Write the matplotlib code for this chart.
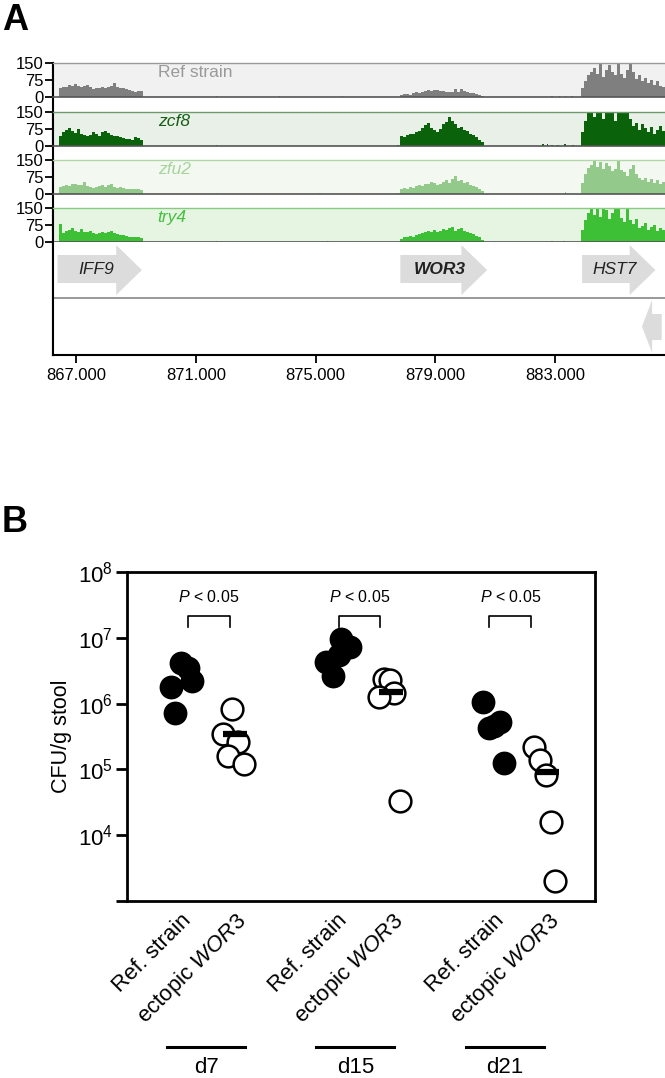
import numpy as np
import matplotlib
matplotlib.use('Agg')
import matplotlib.pyplot as plt
from matplotlib.patches import Polygon
import matplotlib.transforms as mtransforms

plt.rcParams['font.family'] = ['Liberation Sans', 'DejaVu Sans']
plt.rcParams['mathtext.fontset'] = 'custom'
plt.rcParams['mathtext.rm'] = 'Liberation Sans'
plt.rcParams['mathtext.it'] = 'Liberation Sans:italic'
plt.rcParams['mathtext.bf'] = 'Liberation Sans:bold'

# ---------------- Panel A data ----------------
track_names = ['Ref strain', 'zcf8', 'zfu2', 'try4']
region_starts = [866430, 877830, 883866]   # IFF9, WOR3, HST7 coverage regions
bin_bp = 100

ref_iff9 = [40, 46, 44, 52, 48, 56, 50, 44, 47, 52, 42, 34, 38, 41, 44, 40, 46, 48, 62, 44, 40, 38, 34, 30, 26, 24, 28, 26]
ref_wor3 = [8, 12, 14, 10, 16, 20, 18, 24, 28, 30, 26, 32, 30, 28, 26, 22, 20, 24, 36, 22, 34, 28, 20, 18, 16, 14, 10, 6]
ref_hst7 = [40, 72, 96, 110, 130, 100, 145, 90, 120, 140, 110, 95, 150, 100, 85, 120, 150, 110, 80, 95, 70, 85, 60, 75, 55, 70, 50, 45]

zcf8_iff9 = [45, 60, 72, 78, 65, 58, 74, 55, 50, 42, 48, 62, 55, 46, 60, 68, 58, 50, 45, 42, 38, 34, 30, 32, 25, 40, 36, 26]
zcf8_wor3 = [45, 40, 48, 52, 55, 60, 66, 80, 92, 100, 78, 70, 62, 75, 95, 108, 128, 112, 96, 80, 84, 70, 64, 55, 48, 40, 28, 16]
zcf8_hst7 = [60, 110, 150, 150, 130, 150, 150, 120, 150, 150, 150, 110, 150, 150, 150, 150, 120, 90, 100, 70, 95, 80, 60, 85, 55, 70, 90, 65]

zfu2_iff9 = [30, 36, 38, 34, 42, 46, 38, 40, 52, 36, 30, 28, 32, 36, 40, 33, 38, 42, 30, 28, 32, 26, 24, 20, 22, 24, 20, 18]
zfu2_wor3 = [22, 26, 24, 30, 28, 34, 40, 36, 46, 42, 52, 48, 38, 45, 54, 60, 50, 64, 78, 56, 62, 48, 52, 40, 36, 30, 22, 14]
zfu2_hst7 = [50, 90, 115, 130, 148, 120, 140, 110, 135, 125, 100, 110, 145, 105, 95, 80, 110, 130, 90, 70, 60, 70, 55, 65, 50, 60, 45, 52]

try4_iff9 = [80, 40, 48, 55, 60, 50, 45, 58, 42, 46, 50, 38, 34, 40, 44, 38, 46, 50, 40, 36, 32, 30, 26, 22, 20, 24, 22, 18]
try4_wor3 = [14, 20, 22, 26, 24, 30, 36, 40, 44, 50, 46, 54, 42, 48, 56, 52, 60, 66, 50, 56, 60, 48, 44, 40, 34, 28, 20, 10]
try4_hst7 = [55, 95, 130, 150, 120, 148, 110, 150, 140, 100, 130, 150, 150, 105, 90, 150, 95, 80, 100, 60, 70, 85, 55, 65, 75, 50, 60, 55]

# sparse low-level reads between genes
ref_blip_pos = [871700, 873800, 875900, 882900, 883150, 883350, 883560]
ref_blip_val = [5, 3, 4, 3, 3, 4, 3]
zcf8_blip_pos = [871700, 877750, 882600, 882750, 882900, 883100, 883330, 883600]
zcf8_blip_val = [6, 4, 8, 9, 6, 5, 10, 6]
zfu2_blip_pos = [871700, 875150, 877750, 883350]
zfu2_blip_val = [4, 3, 3, 7]
try4_blip_pos = [871700, 875400, 882900, 883300]
try4_blip_val = [4, 3, 3, 4]

gene_names = ['IFF9', 'WOR3', 'HST7', '']
gene_start = [866380, 877830, 883900, 885900]
gene_end = [869200, 880730, 886350, 886560]
gene_strand = [1, 1, 1, -1]

xticks_A = [867000, 871000, 875000, 879000, 883000]
xtick_labels_A = ['867.000', '871.000', '875.000', '879.000', '883.000']

# ---------------- Panel B data ----------------
groups = ['d7', 'd15', 'd21']
strain_labels = ['Ref. strain', 'ectopic $\\mathit{WOR3}$']
ref_vals = [[4.2e6, 3.5e6, 2.2e6, 1.8e6, 7.2e5],
            [9.5e6, 7.3e6, 5.5e6, 4.3e6, 2.6e6],
            [1.07e6, 5.3e5, 4.6e5, 4.2e5, 1.26e5]]
ect_vals = [[8.3e5, 3.5e5, 2.6e5, 1.6e5, 1.2e5],
            [2.4e6, 2.3e6, 1.44e6, 1.27e6, 3.3e4],
            [2.2e5, 1.38e5, 8.2e4, 1.6e4, 2.0e3]]
p_labels = ['$\\mathit{P}$ < 0.05'] * 3

# ---------------- layout helpers ----------------
W, H = 665, 1078
fig = plt.figure(figsize=(W / 100, H / 100), dpi=100)


def rect(l, t, r, b):
    return [l / W, 1 - b / H, (r - l) / W, (b - t) / H]


XL = (866230, 886670)

# background spine for panel A
axbg = fig.add_axes(rect(53, 63, 665, 355))
axbg.set_xlim(*XL)
for s in ['top', 'right', 'bottom']:
    axbg.spines[s].set_visible(False)
axbg.spines['left'].set_linewidth(1.5)
axbg.set_xticks([])
axbg.set_yticks([])
axbg.patch.set_alpha(0)

track_data = [[ref_iff9, ref_wor3, ref_hst7],
              [zcf8_iff9, zcf8_wor3, zcf8_hst7],
              [zfu2_iff9, zfu2_wor3, zfu2_hst7],
              [try4_iff9, try4_wor3, try4_hst7]]
track_blips = [(ref_blip_pos, ref_blip_val), (zcf8_blip_pos, zcf8_blip_val),
               (zfu2_blip_pos, zfu2_blip_val), (try4_blip_pos, try4_blip_val)]
track_fill = ['#7f7f7f', '#0a620a', '#93c98a', '#3dbf36']
track_bg = ['#f1f1f1', '#e8f0e8', '#f3f9f0', '#e6f4e2']
track_top = ['#9a9a9a', '#6f9a6f', '#b2d6aa', '#86cc80']
label_col = ['#9a9a9a', '#155e15', '#a6d49c', '#45c040']
label_style = ['normal', 'italic', 'italic', 'italic']
tops = [63, 112, 160, 208]
th = 34

for i in range(4):
    ax = fig.add_axes(rect(53, tops[i], 665, tops[i] + th))
    ax.set_facecolor(track_bg[i])
    for r, vals in enumerate(track_data[i]):
        vals = np.minimum(np.array(vals, float), 150)
        x = region_starts[r] + np.arange(len(vals)) * bin_bp
        ax.bar(x, vals, width=bin_bp, align='edge', color=track_fill[i], linewidth=0)
    bp, bv = track_blips[i]
    ax.bar(bp, bv, width=45, align='center', color=track_fill[i], linewidth=0)
    ax.set_xlim(*XL)
    ax.set_ylim(0, 150)
    ax.set_yticks([0, 75, 150])
    ax.set_yticklabels(['0', '75', '150'])
    ax.tick_params(axis='y', labelsize=12, length=6, width=1.3, pad=1)
    ax.set_xticks([])
    ax.spines['right'].set_visible(False)
    ax.spines['top'].set_color(track_top[i])
    ax.spines['top'].set_linewidth(1.0)
    ax.spines['bottom'].set_color('#555555')
    ax.spines['bottom'].set_linewidth(1.2)
    ax.spines['left'].set_linewidth(1.5)
    ax.text(0.171, 0.72, track_names[i], transform=ax.transAxes, fontsize=12.5,
            color=label_col[i], style=label_style[i], ha='left', va='center')

# gene annotation axes
axg = fig.add_axes(rect(53, 242, 665, 355))
axg.set_xlim(*XL)
axg.set_ylim(0, 1)
axg.spines['right'].set_visible(False)
axg.spines['top'].set_visible(False)
axg.spines['left'].set_linewidth(1.5)
axg.spines['bottom'].set_linewidth(1.5)
axg.set_yticks([])
axg.set_xticks(xticks_A)
axg.set_xticklabels(xtick_labels_A)
axg.tick_params(axis='x', labelsize=12, length=6, width=1.3, pad=3)
axg.axhline(0.504, color='#888888', lw=1.2)

arrow_col = '#dcdcdc'
for name, s, e, st in zip(gene_names, gene_start, gene_end, gene_strand):
    if st > 0:
        hl = 860
        b0, b1, h0, h1 = 0.637, 0.885, 0.531, 0.973
        pts = [(s, b0), (e - hl, b0), (e - hl, h0), (e, (h0 + h1) / 2),
               (e - hl, h1), (e - hl, b1), (s, b1)]
        yc = (b0 + b1) / 2
    else:
        hl = 340
        b0, b1, h0, h1 = 0.133, 0.363, 0.018, 0.487
        pts = [(e, b0), (s + hl, b0), (s + hl, h0), (s, (h0 + h1) / 2),
               (s + hl, h1), (s + hl, b1), (e, b1)]
        yc = (b0 + b1) / 2
    axg.add_patch(Polygon(pts, closed=True, facecolor=arrow_col, edgecolor='none'))
    if name:
        axg.text((s + e) / 2 - 120, yc, name, fontsize=12.5, style='italic',
                 fontweight='bold' if name == 'WOR3' else 'normal',
                 ha='center', va='center', color='#222222')

fig.text(2 / W, 1 - 20 / H, 'A', fontsize=26, fontweight='bold', va='center', ha='left')

# ---------------- Panel B ----------------
axb = fig.add_axes(rect(127, 572, 595, 901))
axb.set_yscale('log')
axb.set_ylim(1e3, 1e8)
axb.set_xlim(-0.518, 2.479)
for s in axb.spines.values():
    s.set_linewidth(2.0)

gx = np.arange(len(groups)) * 1.0
off = 0.173
ref_jit = [[0.0, 0.045, 0.07, -0.065, -0.04],
           [0.025, 0.08, 0.015, -0.07, -0.025],
           [-0.065, 0.045, 0.005, -0.025, 0.07]]
ect_jit = [[-0.02, -0.075, 0.02, -0.045, 0.06],
           [-0.045, -0.005, 0.02, -0.075, 0.055],
           [-0.085, -0.045, -0.005, 0.025, 0.05]]
ms = 245
for g in range(3):
    xr = gx[g] - off + np.array(ref_jit[g])
    xe = gx[g] + off + np.array(ect_jit[g])
    axb.scatter(xr, ref_vals[g], s=ms, facecolor='black', edgecolor='black', linewidth=1.5, zorder=3)
    axb.scatter(xe, ect_vals[g], s=ms, facecolor='white', edgecolor='black', linewidth=1.8, zorder=3)
    m = np.mean(ect_vals[g])
    axb.hlines(m, gx[g] + off - 0.075, gx[g] + off + 0.075, color='black', lw=4.5, zorder=5)

trans = mtransforms.blended_transform_factory(axb.transData, axb.transAxes)
for g in range(3):
    bc = gx[g] * 0.965 + 0.006
    axb.plot([bc - 0.134, bc - 0.134, bc + 0.134, bc + 0.134],
             [0.833, 0.866, 0.866, 0.833], color='black', lw=1.2, transform=trans, clip_on=False)
    axb.text(bc, 0.924, p_labels[g], transform=trans, ha='center', va='center', fontsize=11.5)
    lc = gx[g] * 0.955 - 0.01
    axb.plot([lc - 0.25, lc + 0.25], [-0.444, -0.444], color='black', lw=2.2,
             transform=trans, clip_on=False)
    axb.text(lc, -0.505, groups[g], transform=trans, ha='center', va='center', fontsize=16)

xt = []
xtl = []
for g in range(3):
    xt += [gx[g] - off, gx[g] + off]
    xtl += strain_labels
axb.set_xticks(xt)
axb.set_xticklabels(xtl, rotation=45, ha='right', va='top', rotation_mode='anchor', fontsize=16)
axb.tick_params(axis='x', length=0, pad=6)

axb.set_yticks([1e3, 1e4, 1e5, 1e6, 1e7, 1e8])
axb.set_yticklabels(['', '$10^4$', '$10^5$', '$10^6$', '$10^7$', '$10^8$'])
axb.yaxis.set_minor_locator(matplotlib.ticker.NullLocator())
axb.tick_params(axis='y', labelsize=16, length=8, width=2.0, pad=2)
axb.set_ylabel('CFU/g stool', fontsize=15.5, labelpad=4)

fig.text(2 / W, 1 - 522 / H, 'B', fontsize=26, fontweight='bold', va='center', ha='left')

fig.savefig('out.png', dpi=100)
